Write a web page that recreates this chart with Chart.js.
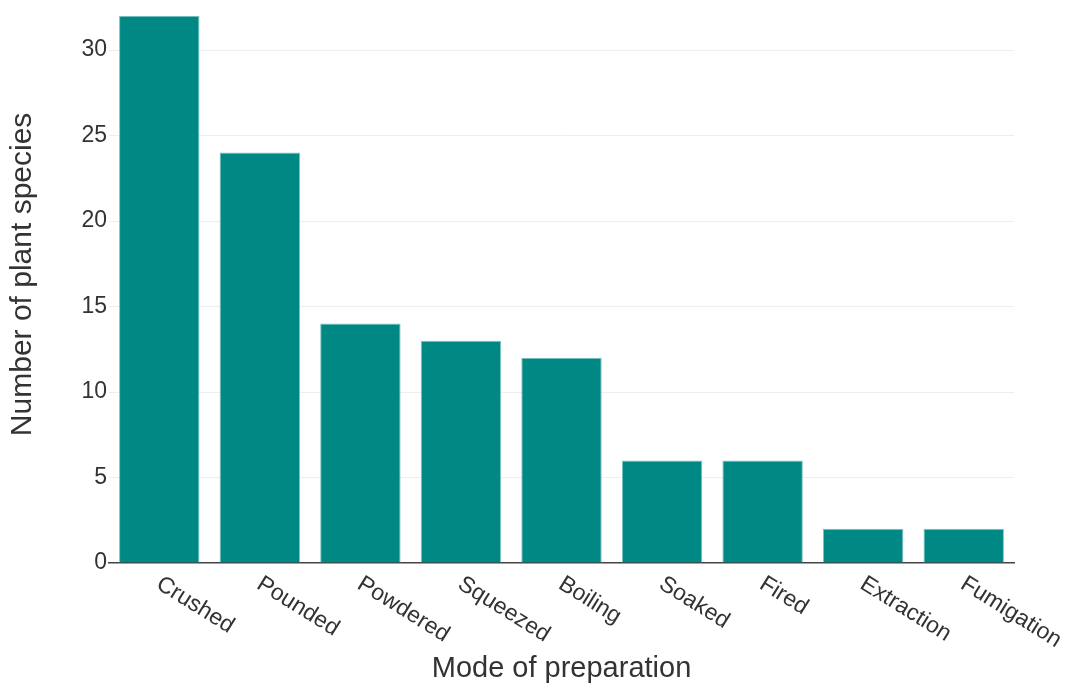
<!DOCTYPE html>
<html>
<head>
<meta charset="utf-8">
<script src="https://cdn.jsdelivr.net/npm/chart.js@4.4.1/dist/chart.umd.min.js"></script>
<style>
  html, body { margin: 0; padding: 0; background: #ffffff; }
  canvas { display: block; }
</style>
</head>
<body>
<canvas id="chart" width="1067" height="686"></canvas>
<script>
// Plant species counted per mode of preparation
const categories = ['Crushed', 'Pounded', 'Powdered', 'Squeezed', 'Boiling', 'Soaked', 'Fired', 'Extraction', 'Fumigation'];
const speciesCounts = [32, 24, 14, 13, 12, 6, 6, 2, 2];
const yTickValues = [0, 5, 10, 15, 20, 25, 30];
const yAxisMax = 32;
const xAxisTitle = 'Mode of preparation';
const yAxisTitle = 'Number of plant species';

const FONT = '"Liberation Sans", Arial, Helvetica, sans-serif';
const TEXT_COLOR = '#333333';
const LABEL_ANGLE = 32;

// Slanted category labels and the two axis titles
const axisText = {
  id: 'axisText',
  afterDraw(chart) {
    const { ctx, chartArea } = chart;
    const x = chart.scales.x;
    ctx.save();
    ctx.fillStyle = TEXT_COLOR;
    ctx.font = '23px ' + FONT;
    ctx.textAlign = 'left';
    ctx.textBaseline = 'middle';
    categories.forEach((label, i) => {
      const px = x.getPixelForTick(i);
      ctx.save();
      ctx.translate(px - 1, chartArea.bottom + 19);
      ctx.rotate(LABEL_ANGLE * Math.PI / 180);
      ctx.fillText(label, 0, 0);
      ctx.restore();
    });

    ctx.font = '29px ' + FONT;
    ctx.textAlign = 'center';
    ctx.fillText(xAxisTitle, (chartArea.left + chartArea.right) / 2, chartArea.bottom + 106);

    ctx.font = '30px ' + FONT;
    ctx.save();
    ctx.translate(23, (chartArea.top + chartArea.bottom) / 2 - 15);
    ctx.rotate(-Math.PI / 2);
    ctx.fillText(yAxisTitle, 0, 0);
    ctx.restore();
    ctx.restore();
  }
};

new Chart(document.getElementById('chart'), {
  type: 'bar',
  data: {
    labels: categories,
    datasets: [{
      data: speciesCounts,
      backgroundColor: '#008984',
      borderColor: '#7cc3c0',
      borderWidth: 1,
      barPercentage: 0.8,
      categoryPercentage: 1.0
    }]
  },
  options: {
    responsive: false,
    animation: false,
    layout: { padding: { top: 14, right: 53, bottom: 0, left: 0 } },
    plugins: {
      legend: { display: false },
      tooltip: { enabled: false }
    },
    scales: {
      x: {
        grid: { display: false, drawTicks: false },
        border: { display: true, color: '#444444', width: 1.5 },
        ticks: { display: false },
        afterFit(scale) { scale.height = 123; }
      },
      y: {
        min: 0,
        max: yAxisMax,
        afterBuildTicks(scale) {
          scale.ticks = yTickValues.map(v => ({ value: v }));
        },
        grid: {
          drawTicks: false,
          color: ctx => (ctx.tick && ctx.tick.value === 0) ? 'rgba(0,0,0,0)' : '#eeeeee',
          lineWidth: 1
        },
        border: { display: false },
        ticks: {
          color: TEXT_COLOR,
          font: { family: FONT, size: 23 },
          padding: 2
        },
        afterFit(scale) { scale.width = 109; }
      }
    }
  },
  plugins: [axisText]
});
</script>
</body>
</html>
